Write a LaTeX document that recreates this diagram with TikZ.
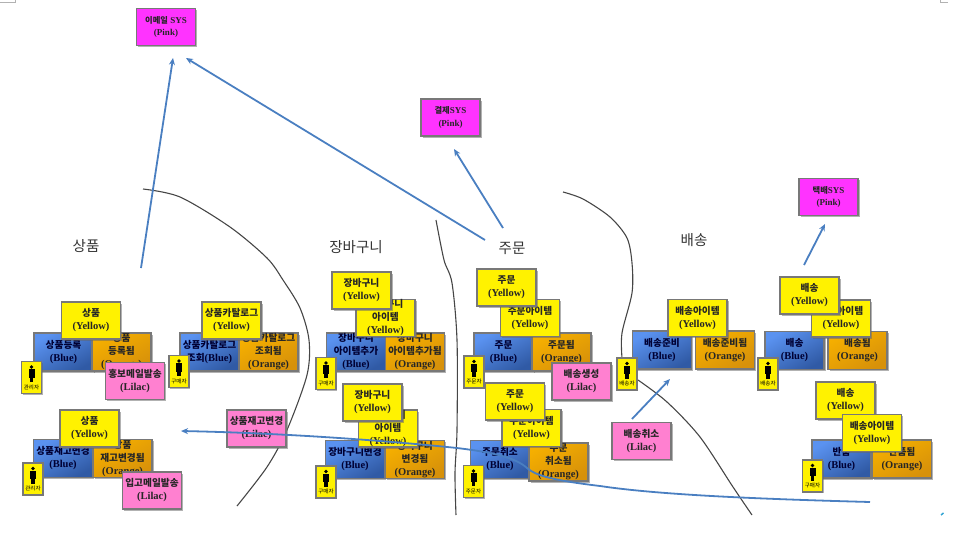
\documentclass[tikz,border=0pt]{standalone}
\usepackage{fontspec}
\setmainfont{Liberation Serif}
\newfontfamily\kr[Scale=0.92]{Noto Sans CJK KR}
\usepackage{tikz}
\usetikzlibrary{
  arrows.meta,
  shadows
}
\definecolor{esblue}{RGB}{74,127,193}
\definecolor{esblueL}{RGB}{90,146,240}
\definecolor{esblueD}{RGB}{48,90,165}
\definecolor{esorangeL}{RGB}{245,175,0}
\definecolor{esorangeD}{RGB}{215,145,10}
\definecolor{esedge}{RGB}{120,120,120}
\definecolor{eslilac}{RGB}{255,128,208}
\definecolor{espink}{RGB}{255,51,255}
\definecolor{esline}{RGB}{70,70,70}
\tikzset{
  card/.style={
    rectangle, draw=esedge, line width=1.2pt,
    minimum width=59pt, minimum height=37pt, inner sep=0pt,
    align=center, text=black!85,
    font=\fontsize{10.5}{13}\selectfont\bfseries,
    drop shadow={shadow xshift=1.5pt, shadow yshift=-1.5pt, fill=black!60, opacity=0.5}
  },
  cardY/.style={card, fill=yellow},
  cardB/.style={card, minimum height=38pt, top color=esblueL, bottom color=esblueD,
    shading angle=30, text=black!80!blue},
  cardO/.style={card, minimum height=38pt, top color=esorangeL, bottom color=esorangeD,
    shading angle=30},
  cardL/.style={card, fill=eslilac},
  cardP/.style={card, fill=espink, font=\fontsize{9}{12.5}\selectfont\bfseries},
  actor/.style={
    rectangle, draw=esedge, line width=1.2pt, fill=yellow,
    minimum width=20pt, minimum height=32pt, inner sep=0pt,
    text=black, font=\fontsize{6}{6}\selectfont\kr,
    text height=24pt, text depth=1pt,
    drop shadow={shadow xshift=1pt, shadow yshift=-1pt, fill=black!60, opacity=0.5},
    path picture={
      \fill[black] ([yshift=10.5pt]path picture bounding box.center) circle (1.8pt);
      \fill[black] ([shift={(-3pt,8.4pt)}]path picture bounding box.center)
        rectangle ([shift={(3pt,0pt)}]path picture bounding box.center);
      \fill[black] ([shift={(-1.8pt,0pt)}]path picture bounding box.center)
        rectangle ([shift={(1.8pt,-4.5pt)}]path picture bounding box.center);
    }
  },
  area/.style={font=\fontsize{15.8}{17}\selectfont\kr, text=black!80},
  flow/.style={-{Stealth[length=7pt,width=6pt]}, line width=1.8pt, esblue},
  border/.style={line width=1.1pt, esline},
  corner/.style={line width=1pt, gray!60}
}
\begin{document}
\begin{tikzpicture}[x=1pt, y=-1pt]
\useasboundingbox (0,0) rectangle (959,533);

\draw[border] plot[smooth] coordinates {(143,189) (180,197) (230,227) (267,258) (283,280)
  (300,308) (309,340) (307,375) (287,430) (267,467) (237,506)};
\draw[border] plot[smooth] coordinates {(436,220) (444,260) (452,283) (457,340) (457,430)
  (455,473) (456,515)};
\draw[border] plot[smooth] coordinates {(563,192) (583,199) (610,217) (627,238) (632,263)
  (632,293) (622,333) (622,358)};
\draw[border] plot[smooth] coordinates {(638,380) (667,402) (700,437) (733,487) (752,515)};
\draw[corner] (0,2.5) -- (15,2.5) -- (15,0);
\draw[corner] (948,2.5) -- (940.5,2.5) -- (940.5,0);
\draw[line width=1.5pt, esblue!70!cyan] (941,515) -- (943.5,513);

\node[area] (lblgoods) at (86,246)  {상품};
\node[area] (lblcart)  at (356,247) {장바구니};
\node[area] (lblorder) at (512,248) {주문};
\node[area] (lblship)  at (694,240) {배송};

\node[cardP] (sysmail) at (166,27)    {{\kr 이메일} SYS\\(Pink)};
\node[cardP] (syspay)  at (450.5,117.5) {{\kr 결제}SYS\\(Pink)};
\node[cardP] (sysship) at (828.5,197) {{\kr 택배}SYS\\(Pink)};

\node[cardB] (regcmd)   at (63.5,352)  {{\kr 상품등록}\\(Blue)};
\node[cardO] (regevt)   at (121.5,352) {{\kr 상품}\\{\kr 등록됨}\\(Orange)};
\node[cardY] (regagg)   at (91,320.5)  {{\kr 상품}\\(Yellow)};
\node[actor] (regact)   at (31.5,377.5) {관리자};
\node[cardL] (regpol)   at (135,381)   {{\kr 홍보메일발송}\\(Lilac)};

\node[cardB] (catcmd)   at (209.5,352) {{\kr 상품카탈로그}\\{\kr 조회}(Blue)};
\node[cardO] (catevt)   at (268.5,352) {{\kr 상품카탈로그}\\{\kr 조회됨}\\(Orange)};
\node[cardY] (catagg)   at (231.5,320.5) {{\kr 상품카탈로그}\\(Yellow)};
\node[actor] (catact)   at (179,371.5) {구매자};

\node[cardB] (stockcmd) at (63,458.5)  {{\kr 상품재고변경}\\(Blue)};
\node[cardO] (stockevt) at (122.5,458.5) {{\kr 상품}\\{\kr 재고변경됨}\\(Orange)};
\node[cardY] (stockagg) at (89.5,428.5) {{\kr 상품}\\(Yellow)};
\node[actor] (stockact) at (33,479)    {관리자};
\node[cardL] (stockpol) at (152,490.5) {{\kr 입고메일발송}\\(Lilac)};
\node[cardL] (stockext) at (256.5,428.5) {{\kr 상품재고변경}\\(Lilac)};

\node[cardB] (addcmd)   at (356,352)   {{\kr 장바구니}\\{\kr 아이템추가}\\(Blue)};
\node[cardO] (addevt)   at (415,352)   {{\kr 장바구니}\\{\kr 아이템추가됨}\\(Orange)};
\node[cardY] (additem)  at (385.5,318) {{\kr 장바구니}\\{\kr 아이템}\\(Yellow)};
\node[cardY] (addagg)   at (361.5,290.5) {{\kr 장바구니}\\(Yellow)};
\node[actor] (addact)   at (326,373.5) {구매자};

\node[cardB] (chgcmd)   at (355,459.5) {{\kr 장바구니변경}\\(Blue)};
\node[cardO] (chgevt)   at (415,459.5) {{\kr 장바구니}\\{\kr 변경됨}\\(Orange)};
\node[cardY] (chgitem)  at (388,428.5) {{\kr 장바구니}\\{\kr 아이템}\\(Yellow)};
\node[cardY] (chgagg)   at (372.5,402.5) {{\kr 장바구니}\\(Yellow)};
\node[actor] (chgact)   at (326,482)   {구매자};

\node[cardB] (ordcmd)   at (503.5,352) {{\kr 주문}\\(Blue)};
\node[cardO] (ordevt)   at (561.5,352) {{\kr 주문됨}\\(Orange)};
\node[cardY] (orditem)  at (530,318)   {{\kr 주문아이템}\\(Yellow)};
\node[cardY] (ordagg)   at (506.5,287.5) {{\kr 주문}\\(Yellow)};
\node[actor] (ordact)   at (474,372)   {주문자};
\node[cardL] (ordpol)   at (581.5,381.5) {{\kr 배송생성}\\(Lilac)};

\node[cardB] (cancmd)   at (500,459.5) {{\kr 주문취소}\\(Blue)};
\node[cardO] (canevt)   at (558.5,462) {{\kr 주문}\\{\kr 취소됨}\\(Orange)};
\node[cardY] (canitem)  at (531.5,428) {{\kr 주문아이템}\\(Yellow)};
\node[cardY] (canagg)   at (515,401.5) {{\kr 주문}\\(Yellow)};
\node[actor] (canact)   at (473.5,481.5) {주문자};

\node[cardB] (prepcmd)  at (662,350)   {{\kr 배송준비}\\(Blue)};
\node[cardO] (prepevt)  at (725,350)   {{\kr 배송준비됨}\\(Orange)};
\node[cardY] (prepitem) at (697.5,318) {{\kr 배송아이템}\\(Yellow)};
\node[actor] (prepact)  at (627,374)   {배송자};
\node[cardL] (shipcan)  at (641.5,441) {{\kr 배송취소}\\(Lilac)};

\node[cardB] (shipcmd)  at (794.5,350.5) {{\kr 배송}\\(Blue)};
\node[cardO] (shipevt)  at (857.5,350.5) {{\kr 배송됨}\\(Orange)};
\node[cardY] (shipitem) at (841,318.5) {{\kr 배송아이템}\\(Yellow)};
\node[cardY] (shipagg)  at (809.5,295.5) {{\kr 배송}\\(Yellow)};
\node[actor] (shipact)  at (768,374)   {배송자};

\node[cardB] (retcmd)   at (841.5,459) {{\kr 반품}\\(Blue)};
\node[cardO] (retevt)   at (902,459)   {{\kr 반품됨}\\(Orange)};
\node[cardY] (retagg)   at (845.5,400.5) {{\kr 배송}\\(Yellow)};
\node[cardY] (retitem)  at (872,433)   {{\kr 배송아이템}\\(Yellow)};
\node[actor] (retact)   at (812.5,476) {구매자};

\coordinate (goodsout) at (141,268);
\coordinate (mailinA)  at (173,58);
\coordinate (orderoutA) at (485,240);
\coordinate (mailinB)  at (186,58);
\coordinate (orderoutB) at (503,228);
\coordinate (payin)    at (454,149);
\coordinate (shipout)  at (804,265);
\coordinate (shipin)   at (825,224);
\coordinate (canout)   at (632,419);
\coordinate (canin)    at (670,379);
\coordinate (retout)   at (870,502);
\coordinate (stockin)  at (181,431);

\draw[flow] (goodsout) -- (mailinA);
\draw[flow] (orderoutA) -- (mailinB);
\draw[flow] (orderoutB) -- (payin);
\draw[flow] (shipout) -- (shipin);
\draw[flow] (canout) -- (canin);
\draw[flow] (retout) .. controls (760,499) and (660,495) .. (600,486)
  .. controls (550,480) and (535,475) .. (527,468)
  .. controls (515,457) and (490,452) .. (457,448)
  .. controls (380,440) and (280,433) .. (stockin);
\end{tikzpicture}
\end{document}
